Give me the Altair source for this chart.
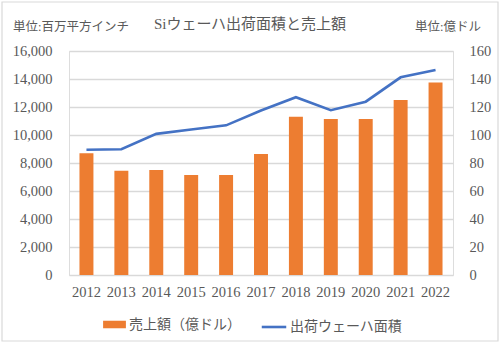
import altair as alt
import pandas as pd

years = ["2012", "2013", "2014", "2015", "2016", "2017", "2018", "2019", "2020", "2021", "2022"]
sales = [87, 74.5, 75, 71.5, 71.5, 86.5, 113, 111.5, 111.5, 125, 137.5]          # 売上額（億ドル）
area = [8950, 8980, 10080, 10390, 10690, 11750, 12700, 11770, 12380, 14120, 14650]  # 出荷ウェーハ面積
sales_label = "売上額（億ドル）"
area_label = "出荷ウェーハ面積"
title_text = "Siウェーハ出荷面積と売上額"
left_unit = "単位:百万平方インチ"
right_unit = "単位:億ドル"

df = pd.DataFrame({"year": years, "sales": sales, "area": area,
                   "s_lab": [sales_label] * len(years), "a_lab": [area_label] * len(years)})

ORANGE = "#ED7D31"
BLUE = "#4472C4"
GRAY = "#595959"
GRID = "#D9D9D9"
SERIF = "Liberation Serif, Noto Sans CJK JP"
W, H = 384, 224

base = alt.Chart(df)

xenc = alt.X("year:O", title=None,
             scale=alt.Scale(paddingInner=0.6, paddingOuter=0.3),
             axis=alt.Axis(labelAngle=0, ticks=False, domain=False, labelPadding=10,
                           labelFont=SERIF, labelFontSize=14.5, labelColor=GRAY))

bars = base.mark_bar().encode(
    x=xenc,
    y=alt.Y("sales:Q", title=None, scale=alt.Scale(domain=[0, 160], nice=False),
            axis=alt.Axis(orient="right", values=list(range(0, 161, 20)), grid=False, ticks=False,
                          domain=False, labelPadding=16, labelFont=SERIF, labelFontSize=14.5,
                          labelColor=GRAY)),
    color=alt.Color("s_lab:N", scale=alt.Scale(domain=[sales_label], range=[ORANGE]),
                    legend=alt.Legend(title=None, orient="none", legendX=34, legendY=262,
                                      symbolType="M-1,-0.33H1V0.33H-1Z", symbolSize=520,
                                      symbolStrokeWidth=0, labelFont=SERIF, labelFontSize=14,
                                      labelColor=GRAY, labelOffset=3)),
)

line = base.mark_line(strokeWidth=2.6).encode(
    x=alt.X("year:O"),
    y=alt.Y("area:Q", title=None, scale=alt.Scale(domain=[0, 16000], nice=False),
            axis=alt.Axis(orient="left", values=list(range(0, 16001, 2000)), format=",.0f",
                          grid=True, gridColor=GRID, gridWidth=1.3, ticks=False, domain=False,
                          labelPadding=17, labelFont=SERIF, labelFontSize=14.5, labelColor=GRAY)),
    color=alt.Color("a_lab:N", scale=alt.Scale(domain=[area_label], range=[BLUE]),
                    legend=alt.Legend(title=None, orient="none", legendX=191, legendY=262,
                                      symbolType="stroke", symbolSize=600, symbolStrokeWidth=2.6,
                                      labelFont=SERIF, labelFontSize=14, labelColor=GRAY,
                                      labelOffset=2)),
)

one = alt.Chart(pd.DataFrame({"t": [title_text], "l": [left_unit], "r": [right_unit]}))
title = one.mark_text(font=SERIF, fontSize=15, color=GRAY, align="center", baseline="middle").encode(
    x=alt.value(181), y=alt.value(-27), text="t:N")
lunit = one.mark_text(font=SERIF, fontSize=12.5, color=GRAY, align="left", baseline="middle").encode(
    x=alt.value(-56), y=alt.value(-24), text="l:N")
runit = one.mark_text(font=SERIF, fontSize=12.5, color=GRAY, align="left", baseline="middle").encode(
    x=alt.value(346), y=alt.value(-24), text="r:N")
border = one.mark_rect(fill=None, stroke=GRID, strokeWidth=1.2).encode(
    x=alt.value(-67), x2=alt.value(429), y=alt.value(-49), y2=alt.value(290))

chart = alt.layer(bars, line, title, lunit, runit, border).resolve_scale(
    y="independent", color="independent"
).properties(
    width=W, height=H,
    autosize=alt.AutoSizeParams(type="none"),
    padding={"left": 69, "top": 51, "right": 47, "bottom": 70},
).configure_view(stroke=None).configure(background="white")

chart.save("out.html", embed_options={"renderer": "svg", "actions": False})
